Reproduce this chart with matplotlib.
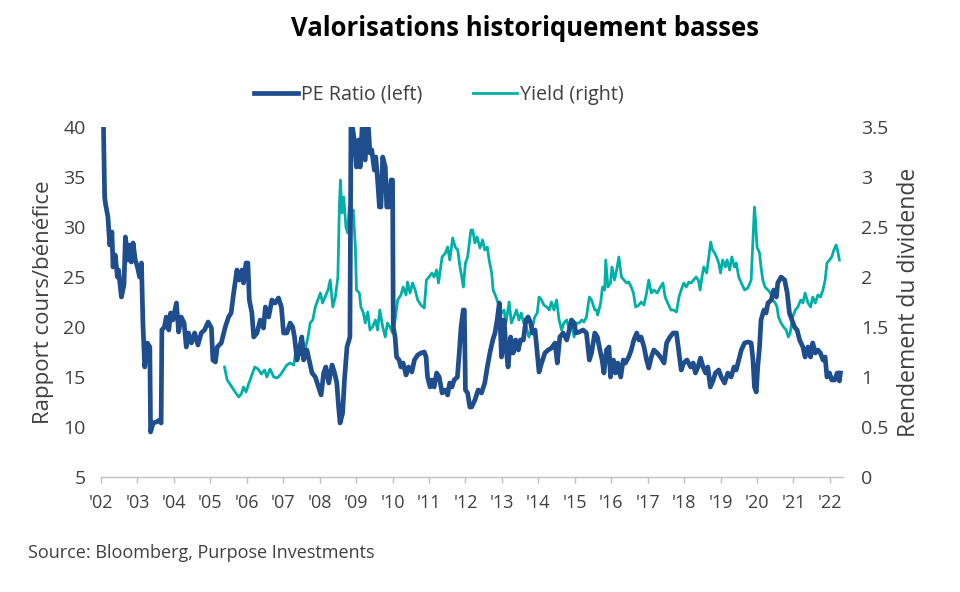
import matplotlib as mpl
mpl.use('Agg')
import matplotlib.pyplot as plt

plt.rcParams['font.family'] = ['Open Sans', 'DejaVu Sans']

# PE ratio (left axis)
pe_year = [2002.05, 2002.10, 2002.12, 2002.19, 2002.24, 2002.30, 2002.33, 2002.39, 2002.45, 2002.48,
           2002.56, 2002.63, 2002.67, 2002.74, 2002.79, 2002.83, 2002.88, 2002.94, 2003.00, 2003.06,
           2003.11, 2003.15, 2003.20, 2003.27, 2003.34, 2003.36, 2003.43, 2003.52, 2003.61, 2003.65,
           2003.67, 2003.74, 2003.79, 2003.86, 2003.91, 2003.97, 2004.07, 2004.13, 2004.20, 2004.28,
           2004.34, 2004.40, 2004.48, 2004.57, 2004.66, 2004.75, 2004.84, 2004.94, 2005.03, 2005.07,
           2005.14, 2005.19, 2005.30, 2005.41, 2005.50, 2005.57, 2005.64, 2005.73, 2005.79, 2005.87,
           2005.91, 2005.98, 2006.03, 2006.07, 2006.14, 2006.19, 2006.28, 2006.37, 2006.46, 2006.51,
           2006.60, 2006.69, 2006.78, 2006.87, 2006.95, 2007.01, 2007.10, 2007.19, 2007.26, 2007.31,
           2007.38, 2007.44, 2007.51, 2007.56, 2007.65, 2007.71, 2007.79, 2007.88, 2007.97, 2008.04,
           2008.11, 2008.17, 2008.25, 2008.34, 2008.41, 2008.47, 2008.52, 2008.56, 2008.63, 2008.68,
           2008.75, 2008.83, 2008.86, 2008.95, 2009.01, 2009.07, 2009.11, 2009.18, 2009.25, 2009.32,
           2009.38, 2009.43, 2009.50, 2009.54, 2009.59, 2009.64, 2009.68, 2009.73, 2009.80, 2009.84,
           2009.89, 2009.96, 2010.00, 2010.02, 2010.07, 2010.11, 2010.18, 2010.23, 2010.29, 2010.37,
           2010.44, 2010.53, 2010.60, 2010.69, 2010.78, 2010.87, 2010.92, 2010.96, 2011.03, 2011.08,
           2011.14, 2011.21, 2011.28, 2011.36, 2011.45, 2011.51, 2011.57, 2011.63, 2011.69, 2011.78,
           2011.83, 2011.88, 2011.94, 2011.97, 2012.00, 2012.06, 2012.12, 2012.17, 2012.26, 2012.35,
           2012.44, 2012.53, 2012.60, 2012.67, 2012.75, 2012.81, 2012.87, 2012.93, 2012.99, 2013.06,
           2013.11, 2013.17, 2013.24, 2013.31, 2013.38, 2013.45, 2013.51, 2013.59, 2013.66, 2013.72,
           2013.79, 2013.84, 2013.91, 2013.97, 2014.02, 2014.09, 2014.18, 2014.27, 2014.36, 2014.46,
           2014.52, 2014.59, 2014.68, 2014.78, 2014.85, 2014.91, 2014.98, 2015.03, 2015.12, 2015.23,
           2015.32, 2015.40, 2015.46, 2015.55, 2015.62, 2015.69, 2015.75, 2015.80, 2015.87, 2015.94,
           2015.98, 2016.06, 2016.12, 2016.18, 2016.26, 2016.33, 2016.39, 2016.48, 2016.55, 2016.62,
           2016.70, 2016.76, 2016.82, 2016.90, 2016.97, 2017.03, 2017.10, 2017.17, 2017.26, 2017.35,
           2017.45, 2017.52, 2017.61, 2017.70, 2017.79, 2017.86, 2017.92, 2017.99, 2018.08, 2018.18,
           2018.25, 2018.31, 2018.38, 2018.45, 2018.52, 2018.59, 2018.65, 2018.72, 2018.80, 2018.86,
           2018.95, 2019.02, 2019.11, 2019.20, 2019.29, 2019.37, 2019.43, 2019.50, 2019.57, 2019.66,
           2019.75, 2019.84, 2019.89, 2019.93, 2019.98, 2020.02, 2020.07, 2020.11, 2020.19, 2020.25,
           2020.30, 2020.39, 2020.46, 2020.53, 2020.57, 2020.66, 2020.76, 2020.83, 2020.89, 2020.96,
           2021.03, 2021.10, 2021.17, 2021.26, 2021.32, 2021.40, 2021.47, 2021.53, 2021.60, 2021.67,
           2021.74, 2021.81, 2021.87, 2021.92, 2021.99, 2022.05, 2022.13, 2022.20, 2022.26, 2022.29]
pe_val = [44.0, 33.0, 32.4, 31.0, 28.2, 29.5, 26.0, 27.2, 25.0, 25.7,
          23.0, 24.2, 29.0, 26.7, 28.2, 26.5, 28.4, 26.7, 26.0, 25.0,
          26.4, 20.4, 16.0, 18.4, 18.0, 9.5, 10.4, 10.5, 10.7, 10.4,
          19.7, 20.0, 21.0, 19.7, 21.4, 20.7, 22.4, 19.5, 21.0, 20.4,
          18.0, 19.4, 18.4, 19.4, 18.2, 19.4, 19.7, 20.5, 19.9, 16.7,
          16.5, 18.0, 18.4, 20.0, 21.0, 21.4, 23.4, 25.7, 24.7, 25.7,
          24.4, 26.4, 26.4, 22.7, 21.4, 19.0, 19.4, 20.7, 19.9, 22.0,
          21.0, 22.7, 22.4, 22.9, 22.0, 19.4, 19.4, 20.4, 20.0, 19.0,
          16.7, 17.7, 19.0, 16.7, 17.7, 16.7, 15.4, 15.0, 14.0, 13.2,
          15.4, 16.0, 14.4, 16.2, 15.4, 14.4, 12.0, 10.4, 11.4, 14.7,
          18.0, 19.0, 41.0, 38.7, 36.0, 38.7, 36.0, 41.0, 36.7, 41.0,
          37.4, 37.7, 35.7, 37.0, 34.7, 32.0, 32.0, 37.0, 36.0, 32.0,
          32.0, 34.7, 34.7, 20.0, 19.0, 17.0, 16.7, 16.0, 16.4, 15.2,
          16.0, 15.5, 16.7, 17.2, 17.4, 17.5, 17.0, 15.0, 14.0, 14.7,
          14.0, 15.4, 15.0, 13.4, 13.7, 13.2, 14.4, 14.0, 14.7, 15.0,
          17.4, 20.0, 21.7, 21.7, 13.7, 13.4, 12.0, 12.0, 12.7, 13.7,
          13.4, 14.4, 16.0, 17.4, 18.7, 19.4, 20.7, 22.4, 17.0, 20.7,
          18.0, 16.0, 19.0, 17.4, 18.7, 17.7, 18.7, 18.7, 20.7, 21.0,
          20.4, 19.4, 19.7, 17.4, 15.5, 16.4, 17.4, 17.7, 17.9, 18.4,
          16.4, 19.0, 19.4, 18.7, 19.7, 20.7, 20.4, 19.4, 19.5, 19.7,
          19.4, 16.7, 17.4, 19.4, 19.0, 17.7, 16.7, 15.4, 17.7, 18.0,
          15.0, 16.7, 15.4, 16.4, 15.0, 16.7, 16.4, 17.0, 17.7, 18.7,
          19.4, 18.7, 19.0, 18.0, 16.7, 15.9, 17.0, 17.7, 17.4, 17.0,
          16.4, 18.4, 19.0, 19.4, 19.4, 17.4, 15.7, 16.4, 16.7, 16.0,
          16.4, 15.4, 16.0, 16.9, 16.0, 15.4, 16.0, 14.0, 14.7, 15.4,
          15.7, 15.0, 14.4, 15.4, 15.0, 16.0, 15.7, 16.7, 17.7, 18.4,
          18.5, 18.4, 16.7, 14.0, 13.5, 16.0, 18.0, 20.7, 21.7, 21.4,
          22.4, 22.7, 23.7, 23.0, 24.4, 25.0, 24.7, 23.4, 21.4, 20.7,
          20.0, 19.7, 18.7, 18.0, 17.0, 18.0, 17.0, 18.4, 17.4, 17.7,
          17.4, 16.7, 17.0, 15.0, 15.4, 14.7, 14.7, 15.4, 14.6, 15.4]

# dividend yield (right axis)
yld_year = [2005.39, 2005.46, 2005.52, 2005.59, 2005.68, 2005.78, 2005.85, 2005.91, 2005.98, 2006.05,
            2006.12, 2006.22, 2006.31, 2006.40, 2006.49, 2006.55, 2006.64, 2006.74, 2006.83, 2006.92,
            2007.01, 2007.10, 2007.19, 2007.29, 2007.35, 2007.40, 2007.47, 2007.53, 2007.60, 2007.68,
            2007.74, 2007.81, 2007.88, 2007.95, 2008.02, 2008.08, 2008.15, 2008.23, 2008.29, 2008.36,
            2008.43, 2008.50, 2008.54, 2008.57, 2008.61, 2008.66, 2008.72, 2008.77, 2008.81, 2008.86,
            2008.92, 2008.98, 2009.01, 2009.09, 2009.13, 2009.20, 2009.25, 2009.32, 2009.38, 2009.45,
            2009.53, 2009.59, 2009.65, 2009.73, 2009.80, 2009.86, 2009.93, 2010.00, 2010.07, 2010.14,
            2010.23, 2010.29, 2010.37, 2010.41, 2010.48, 2010.55, 2010.62, 2010.69, 2010.78, 2010.87,
            2010.93, 2011.00, 2011.08, 2011.14, 2011.21, 2011.26, 2011.36, 2011.45, 2011.51, 2011.57,
            2011.65, 2011.72, 2011.79, 2011.85, 2011.90, 2011.94, 2012.00, 2012.06, 2012.15, 2012.20,
            2012.26, 2012.32, 2012.40, 2012.47, 2012.53, 2012.60, 2012.65, 2012.72, 2012.76, 2012.84,
            2012.93, 2012.99, 2013.06, 2013.11, 2013.20, 2013.26, 2013.33, 2013.40, 2013.47, 2013.53,
            2013.60, 2013.67, 2013.74, 2013.84, 2013.90, 2013.97, 2014.02, 2014.09, 2014.15, 2014.23,
            2014.30, 2014.36, 2014.43, 2014.50, 2014.57, 2014.64, 2014.70, 2014.78, 2014.85, 2014.91,
            2014.98, 2015.05, 2015.12, 2015.19, 2015.25, 2015.32, 2015.40, 2015.46, 2015.55, 2015.60,
            2015.63, 2015.71, 2015.76, 2015.82, 2015.85, 2015.91, 2015.98, 2016.02, 2016.09, 2016.15,
            2016.21, 2016.28, 2016.35, 2016.42, 2016.48, 2016.55, 2016.61, 2016.67, 2016.76, 2016.82,
            2016.90, 2016.97, 2017.03, 2017.10, 2017.17, 2017.26, 2017.35, 2017.42, 2017.48, 2017.55,
            2017.64, 2017.71, 2017.79, 2017.86, 2017.92, 2017.99, 2018.06, 2018.13, 2018.19, 2018.26,
            2018.33, 2018.39, 2018.44, 2018.49, 2018.54, 2018.62, 2018.69, 2018.73, 2018.78, 2018.84,
            2018.89, 2018.95, 2019.00, 2019.06, 2019.13, 2019.18, 2019.25, 2019.31, 2019.38, 2019.43,
            2019.50, 2019.57, 2019.66, 2019.75, 2019.84, 2019.88, 2019.93, 2019.96, 2020.00, 2020.07,
            2020.11, 2020.16, 2020.22, 2020.30, 2020.37, 2020.43, 2020.50, 2020.55, 2020.59, 2020.66,
            2020.73, 2020.80, 2020.86, 2020.91, 2020.98, 2021.05, 2021.12, 2021.20, 2021.26, 2021.32,
            2021.40, 2021.47, 2021.53, 2021.60, 2021.67, 2021.74, 2021.81, 2021.87, 2021.92, 2021.99,
            2022.05, 2022.11, 2022.17, 2022.21, 2022.26]
yld_val = [1.10, 0.97, 0.94, 0.90, 0.85, 0.80, 0.83, 0.90, 0.85, 0.93,
           1.00, 1.10, 1.08, 1.03, 1.07, 1.00, 1.08, 1.00, 0.99, 1.02,
           1.07, 1.12, 1.14, 1.12, 1.27, 1.30, 1.22, 1.37, 1.27, 1.40,
           1.54, 1.57, 1.70, 1.77, 1.84, 1.74, 1.80, 1.87, 1.97, 1.70,
           1.80, 2.00, 2.70, 2.97, 2.64, 2.80, 2.50, 2.44, 2.70, 2.60,
           2.67, 2.30, 1.87, 1.84, 1.70, 1.64, 1.54, 1.65, 1.47, 1.50,
           1.57, 1.47, 1.67, 1.50, 1.40, 1.54, 1.50, 1.44, 1.57, 1.77,
           1.82, 1.90, 1.82, 1.95, 1.84, 1.94, 1.87, 1.77, 1.72, 1.69,
           1.97, 2.00, 2.04, 2.00, 2.07, 1.94, 2.20, 2.24, 2.30, 2.17,
           2.39, 2.30, 2.27, 2.10, 2.00, 1.90, 2.14, 2.20, 2.47, 2.47,
           2.34, 2.40, 2.29, 2.37, 2.27, 2.30, 2.17, 2.04, 1.87, 1.80,
           1.70, 1.64, 1.67, 1.54, 1.75, 1.54, 1.60, 1.67, 1.57, 1.64,
           1.54, 1.50, 1.40, 1.50, 1.60, 1.64, 1.80, 1.77, 1.72, 1.70,
           1.67, 1.75, 1.67, 1.77, 1.57, 1.47, 1.54, 1.57, 1.47, 1.54,
           1.40, 1.54, 1.54, 1.57, 1.55, 1.60, 1.80, 1.77, 1.67, 1.67,
           1.62, 1.74, 1.90, 1.87, 2.17, 1.90, 1.94, 2.10, 1.97, 2.07,
           2.20, 2.00, 1.97, 1.94, 1.95, 1.90, 1.84, 1.70, 1.72, 1.75,
           1.72, 1.84, 1.97, 1.84, 1.87, 1.84, 1.90, 1.94, 1.80, 1.74,
           1.67, 1.67, 1.65, 1.80, 1.87, 1.94, 1.90, 1.95, 1.94, 1.97,
           2.00, 1.97, 1.87, 2.00, 2.10, 2.04, 2.24, 2.35, 2.27, 2.24,
           2.20, 2.14, 2.04, 2.17, 2.10, 2.17, 2.07, 2.20, 2.10, 2.14,
           2.00, 1.94, 1.87, 1.89, 1.97, 2.30, 2.70, 2.57, 2.30, 2.24,
           2.10, 1.97, 1.90, 1.87, 1.84, 1.77, 1.74, 1.70, 1.60, 1.54,
           1.50, 1.47, 1.40, 1.44, 1.60, 1.67, 1.70, 1.77, 1.74, 1.84,
           1.74, 1.70, 1.80, 1.74, 1.82, 1.80, 1.87, 1.97, 2.14, 2.17,
           2.20, 2.27, 2.32, 2.27, 2.17]

years = list(range(2002, 2023))
year_labels = ["'%02d" % (y % 100) for y in years]

pe_color = '#1F4E8F'
yld_color = '#00B0A8'
grey = '#404040'

fig = plt.figure(figsize=(9.6, 5.92), dpi=100)
ax = fig.add_axes([101/960, 1-477/592, (843-101)/960, 350/592])
ax2 = ax.twinx()

l1, = ax.plot(pe_year, pe_val, color=pe_color, linewidth=3.4, label='PE Ratio (left)', zorder=3)
l2, = ax2.plot(yld_year, yld_val, color=yld_color, linewidth=2.0, label='Yield (right)')
ax.set_zorder(ax2.get_zorder() + 1)
ax.patch.set_visible(False)

ax.set_xlim(2002.0, 2022.36)
ax.set_ylim(5, 40)
ax2.set_ylim(0, 3.5)
ax.set_yticks(range(5, 41, 5))
ax2.set_yticks([0, 0.5, 1, 1.5, 2, 2.5, 3, 3.5])
ax2.set_yticklabels(['0', '0.5', '1', '1.5', '2', '2.5', '3', '3.5'])
ax.set_xticks(years)
ax.set_xticklabels(year_labels)

for a in (ax, ax2):
    for s in ('top', 'left', 'right', 'bottom'):
        a.spines[s].set_visible(False)
ax.spines['bottom'].set_visible(True)
ax.spines['bottom'].set_color('#BFBFBF')
ax.spines['bottom'].set_linewidth(1.0)
ax.tick_params(axis='x', colors='#BFBFBF', length=4, width=1.0, labelcolor=grey, labelsize=13, pad=8)
ax.tick_params(axis='y', length=0, labelcolor=grey, labelsize=14, pad=11)
ax2.tick_params(axis='y', length=0, labelcolor=grey, labelsize=14, pad=13)

ax.set_ylabel('Rapport cours/bénéfice', fontsize=16, color=grey, labelpad=7)
ax2.set_ylabel('Rendement du dividende', fontsize=16.5, color=grey, labelpad=6)

fig.text(0.547, 0.952, 'Valorisations historiquement basses', ha='center', va='center',
         fontsize=18.5, fontweight='bold', color='black')
fig.legend(handles=[l1, l2], loc='center', bbox_to_anchor=(0.457, 0.84), ncol=2,
           frameon=False, fontsize=14.2, handlelength=2.2, handletextpad=0.15,
           columnspacing=2.6, labelcolor=grey)
fig.text(0.029, 0.066, 'Source: Bloomberg, Purpose Investments', fontsize=13, color=grey,
         ha='left', va='center')

fig.savefig('out.png', dpi=100)
